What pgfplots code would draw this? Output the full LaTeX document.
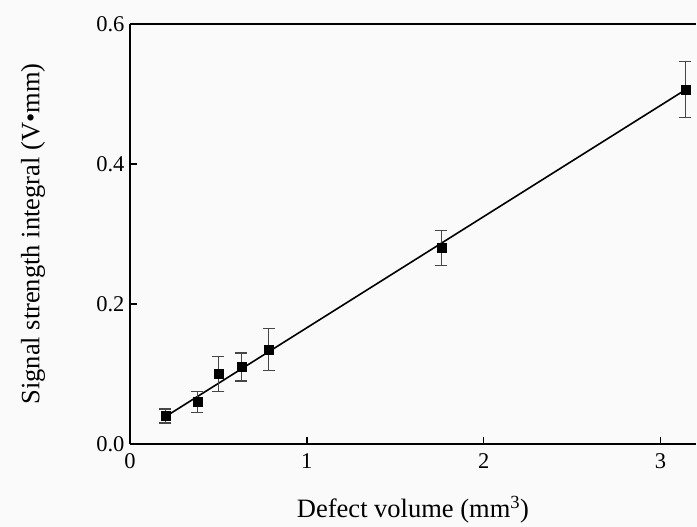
\documentclass[border=0pt]{standalone}
\usepackage{fontspec}
\setmainfont{Liberation Serif}
\usepackage{pgfplots}
\pgfplotsset{compat=1.18}
\definecolor{errgray}{RGB}{70,70,70}
\definecolor{bggray}{RGB}{250,250,250}

\begin{document}
\begin{tikzpicture}
\fill[bggray] (-130pt,-83pt) rectangle (567pt,444pt);
\useasboundingbox (-130pt,-83pt) rectangle (567pt,444pt);
\begin{axis}[
  scale only axis,
  width=566pt, height=420pt,
  xmin=0, xmax=3.2, ymin=0, ymax=0.6,
  axis x line*=bottom, axis y line*=left,
  axis line style={line width=1.6pt, -},
  xtick={0,1,2,3}, xticklabels={0,1,2,3},
  ytick={0,0.2,0.4,0.6}, yticklabels={0.0,0.2,0.4,0.6},
  minor tick num=0,
  tick align=inside, major tick length=7pt,
  tick style={line width=1.3pt, black},
  tick label style={font=\fontsize{22.5}{26}\selectfont},
  xticklabel style={yshift=-6pt},
  yticklabel style={xshift=-2pt},
  xlabel={Defect volume (mm\textsuperscript{3})},
  ylabel={Signal strength integral (V•mm)},
  label style={font=\fontsize{26.5}{30}\selectfont},
  xlabel style={at={(axis description cs:0.5,0)}, anchor=base, yshift=-74pt},
  ylabel style={at={(axis description cs:0,0.5)}, anchor=center, yshift=97pt},
  clip=false,
]
\draw[line width=1.6pt] (rel axis cs:0,1) -- (rel axis cs:1,1);
% linear fit
\addplot[black, line width=1.6pt] coordinates {(0.2,0.039) (3.14,0.506)};
\addplot[only marks, mark=square*, mark size=4.5pt, black,
  error bars/.cd, y dir=both, y explicit,
  error bar style={errgray, line width=1.3pt},
  error mark options={errgray, line width=1.3pt, rotate=90, mark size=6pt}]
  coordinates {
    (0.2,0.040) +- (0,0.010)
    (0.38,0.060) +- (0,0.015)
    (0.5,0.100) +- (0,0.025)
    (0.63,0.110) +- (0,0.020)
    (0.785,0.135) +- (0,0.030)
    (1.76,0.280) +- (0,0.025)
    (3.14,0.506) +- (0,0.040)
  };
\end{axis}
\end{tikzpicture}
\end{document}
